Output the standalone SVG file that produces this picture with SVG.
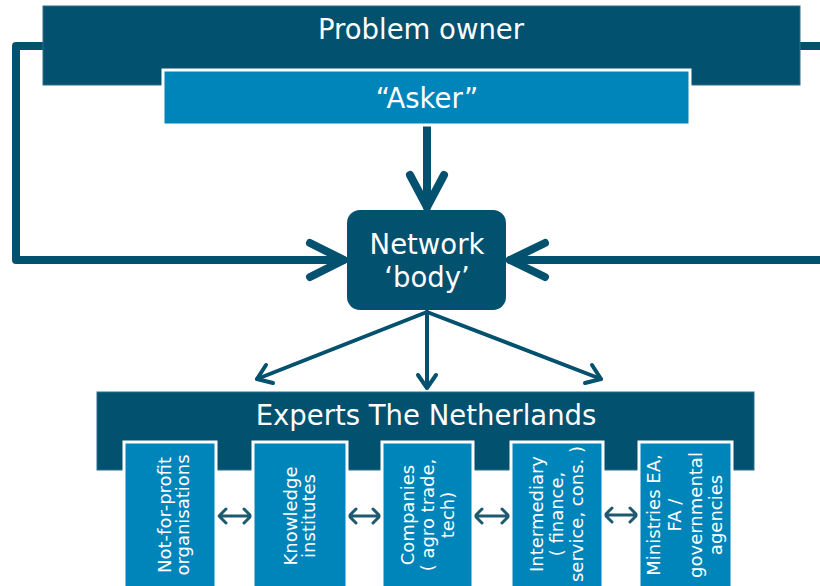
<svg xmlns="http://www.w3.org/2000/svg" width="820" height="586" viewBox="0 0 820 586">
<style>
.dark{fill:#02516f;stroke:#2a6f8c;stroke-width:1}
.light{fill:#0085bb;stroke:#ffffff;stroke-width:3}
.t{font-family:"DejaVu Sans",Verdana,sans-serif;fill:#ffffff;text-anchor:middle}
.big{font-size:27.5px}
.small{font-size:18px}
.thick{fill:none;stroke:#02516f;stroke-width:8;stroke-linecap:round;stroke-linejoin:round}
.mid{fill:none;stroke:#02516f;stroke-width:4;stroke-linecap:round;stroke-linejoin:round}
.thin{fill:none;stroke:#1d5a72;stroke-width:3;stroke-linecap:round;stroke-linejoin:round}
</style>
<rect width="820" height="586" fill="#ffffff"/>
<g id="connectors">
  <path class="thick" d="M43 46 H16 V260 H343"/>
  <path class="thick" d="M310 243 L344 260 L310 277"/>
  <path class="thick" d="M800 46 H824"/>
  <path class="thick" d="M824 260 H510"/>
  <path class="thick" d="M545 243 L510 260 L545 277"/>
  <path class="thick" d="M427 127 V207"/>
  <path class="thick" d="M410 175 L427 207 L444 175"/>
  <path class="mid" d="M427 312 L257 379"/>
  <path class="mid" d="M266 365 L257 379 L273 383"/>
  <path class="mid" d="M427 312 V387"/>
  <path class="mid" d="M418 375 L427 388 L436 375"/>
  <path class="mid" d="M427 312 L601 379"/>
  <path class="mid" d="M592 365 L601 379 L585 383"/>
  <g class="thin">
    <path d="M219 516 H251 M226 509 L219 516 L226 523 M244 509 L251 516 L244 523"/>
    <path d="M349 516 H380 M356 509 L349 516 L356 523 M373 509 L380 516 L373 523"/>
    <path d="M475 516 H509 M482 509 L475 516 L482 523 M502 509 L509 516 L502 523"/>
    <path d="M605 515 H637 M612 508 L605 515 L612 522 M630 508 L637 515 L630 522"/>
  </g>
</g>
<g id="problem-owner">
  <rect class="dark" x="43" y="6" width="757" height="79"/>
  <text class="t big" x="421" y="39">Problem owner</text>
</g>
<g id="asker">
  <rect class="light" x="163" y="70" width="527" height="55"/>
  <text class="t big" x="427" y="108">“Asker”</text>
</g>
<g id="network-body">
  <rect x="347" y="210" width="159" height="100" rx="13" fill="#02516f"/>
  <text class="t big" x="427" y="254">Network</text>
  <text class="t big" x="427" y="287">‘body’</text>
</g>
<g id="experts">
  <rect class="dark" x="97" y="392" width="657" height="78"/>
  <text class="t big" x="426" y="425">Experts The Netherlands</text>
</g>
<g id="not-for-profit">
  <rect class="light" x="124" y="442" width="92" height="150"/>
  <text class="t small" transform="translate(174,515) rotate(-90)"><tspan x="0" dy="-3">Not-for-profit</tspan><tspan x="0" dy="18">organisations</tspan></text>
</g>
<g id="knowledge">
  <rect class="light" x="253" y="442" width="94" height="150"/>
  <text class="t small" transform="translate(300,516) rotate(-90)"><tspan x="0" dy="-3">Knowledge</tspan><tspan x="0" dy="18">institutes</tspan></text>
</g>
<g id="companies">
  <rect class="light" x="382" y="442" width="91" height="150"/>
  <text class="t small" transform="translate(428,515) rotate(-90)"><tspan x="0" dy="-14">Companies</tspan><tspan x="0" dy="20">( agro trade,</tspan><tspan x="0" dy="20">tech)</tspan></text>
</g>
<g id="intermediary">
  <rect class="light" x="511" y="442" width="92" height="150"/>
  <text class="t small" transform="translate(557,514) rotate(-90)"><tspan x="0" dy="-14">Intermediary</tspan><tspan x="0" dy="20">( finance,</tspan><tspan x="0" dy="20">service, cons. )</tspan></text>
</g>
<g id="ministries">
  <rect class="light" x="639" y="442" width="93" height="150"/>
  <text class="t small" transform="translate(685,515) rotate(-90)"><tspan x="0" dy="-25">Ministries EA,</tspan><tspan x="0" dy="21">FA /</tspan><tspan x="0" dy="21">governmental</tspan><tspan x="0" dy="20">agencies</tspan></text>
</g>
</svg>
